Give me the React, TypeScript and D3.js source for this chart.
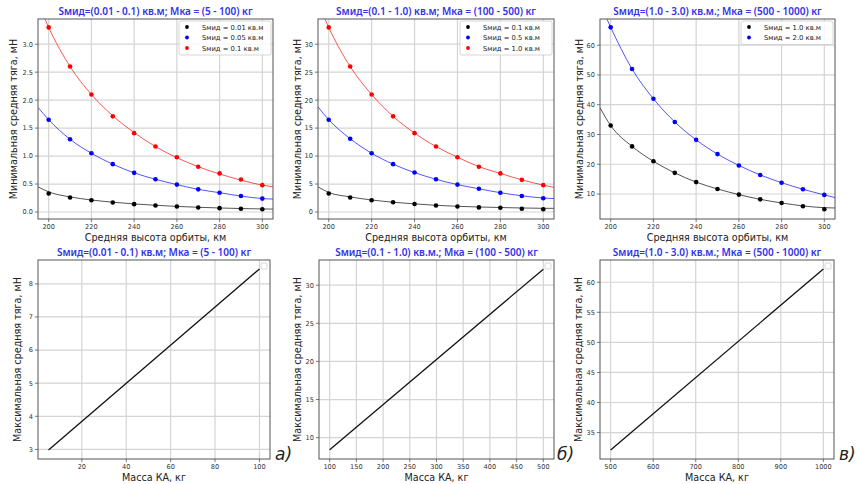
import React from "react";
import * as d3 from "d3";

// ---------- data ----------
const altitudes = [200, 210, 220, 230, 240, 250, 260, 270, 280, 290, 300];
const fitAltitudes = [195, 200, 210, 220, 230, 240, 250, 260, 270, 280, 290, 300, 305];

const p1Black = [0.33, 0.26, 0.21, 0.17, 0.14, 0.117, 0.098, 0.081, 0.069, 0.058, 0.048];
const p1Blue = [1.65, 1.3, 1.05, 0.855, 0.7, 0.585, 0.49, 0.405, 0.345, 0.285, 0.24];
const p1Red = [3.3, 2.6, 2.1, 1.71, 1.41, 1.17, 0.98, 0.81, 0.69, 0.58, 0.48];
const p1BlackFit = [0.45, 0.36, 0.27, 0.215, 0.175, 0.145, 0.12, 0.1, 0.085, 0.072, 0.062, 0.055, 0.052];
const p1BlueFit = [1.87, 1.65, 1.3, 1.05, 0.855, 0.7, 0.585, 0.49, 0.405, 0.345, 0.285, 0.24, 0.23];
const p1RedFit = [3.75, 3.3, 2.6, 2.1, 1.72, 1.42, 1.17, 0.97, 0.81, 0.68, 0.57, 0.48, 0.45];

const p2Black = [3.3, 2.6, 2.1, 1.75, 1.42, 1.15, 0.98, 0.82, 0.75, 0.58, 0.48];
const p2Blue = [16.5, 13.1, 10.5, 8.55, 7.05, 5.85, 4.9, 4.15, 3.45, 2.85, 2.45];
const p2Red = [33, 26, 21, 17.1, 14.1, 11.7, 9.8, 8.1, 6.9, 5.75, 4.8];
const p2BlackFit = [4.5, 3.5, 2.7, 2.15, 1.75, 1.45, 1.2, 1.02, 0.9, 0.8, 0.72, 0.66, 0.66];
const p2BlueFit = [18.8, 16.5, 13.1, 10.5, 8.55, 7.05, 5.85, 4.9, 4.15, 3.45, 2.9, 2.5, 2.4];
const p2RedFit = [37.5, 33, 26, 21, 17.1, 14.1, 11.7, 9.8, 8.1, 6.9, 5.75, 4.8, 4.4];

const p3Black = [33, 26, 21, 17.1, 14, 11.7, 9.8, 8.2, 7, 5.9, 4.9];
const p3Blue = [66, 52, 42, 34.2, 28.2, 23.4, 19.6, 16.4, 13.8, 11.6, 9.7];
const p3BlackFit = [39, 33, 26, 21, 17.1, 14, 11.7, 9.8, 8.2, 7, 6.0, 5.4, 5.3];
const p3BlueFit = [74, 66, 52, 42, 34.2, 28.2, 23.4, 19.6, 16.4, 13.8, 11.6, 9.7, 8.8];

const p4Mass = [5, 100];
const p4Thrust = [2.98, 8.45];
const p5Mass = [100, 500];
const p5Thrust = [8.4, 32.1];
const p6Mass = [500, 1000];
const p6Thrust = [32.1, 62.2];

const topXTicks = [200, 220, 240, 260, 280, 300];
const p1YTicks = [0, 0.5, 1.0, 1.5, 2.0, 2.5, 3.0];
const p2YTicks = [0, 5, 10, 15, 20, 25, 30];
const p3YTicks = [10, 20, 30, 40, 50, 60];
const p4XTicks = [20, 40, 60, 80, 100];
const p4YTicks = [3, 4, 5, 6, 7, 8];
const p5XTicks = [100, 150, 200, 250, 300, 350, 400, 450, 500];
const p5YTicks = [10, 15, 20, 25, 30];
const p6XTicks = [500, 600, 700, 800, 900, 1000];
const p6YTicks = [35, 40, 45, 50, 55, 60];

const titles = [
  "Sмид=(0.01 - 0.1) кв.м; Мка = (5 - 100) кг",
  "Sмид=(0.1 - 1.0) кв.м; Мка = (100 - 500) кг",
  "Sмид=(1.0 - 3.0) кв.м.; Мка = (500 - 1000) кг",
  "Sмид=(0.01 - 0.1) кв.м; Мка = (5 - 100) кг",
  "Sмид=(0.1 - 1.0) кв.м.; Мка = (100 - 500) кг",
  "Sмид=(1.0 - 3.0) кв.м.; Мка = (500 - 1000) кг",
];
const p1Legend = ["Sмид = 0.01 кв.м", "Sмид = 0.05 кв.м", "Sмид = 0.1 кв.м"];
const p2Legend = ["Sмид = 0.1 кв.м", "Sмид = 0.5 кв.м", "Sмид = 1.0 кв.м"];
const p3Legend = ["Sмид = 1.0 кв.м", "Sмид = 2.0 кв.м"];
const panelLetters = ["а)", "б)", "в)"];
const xLabelTop = "Средняя высота орбиты, км";
const yLabelTop = "Минимальная средняя тяга, мН";
const xLabelBottom = "Масса КА, кг";
const yLabelBottom = "Максимальная средняя тяга, мН";

// ---------- styles ----------
const FONT = "DejaVu Sans, sans-serif";
const TITLE_FONT = "'Noto Sans', 'Open Sans', sans-serif";
const TITLE_COLOR = "#3232e8";
const GRID = "#d4d4d4";
const FRAME = "#555";
const TICK_TXT = "#333";

type Series = { dots: number[]; fit: number[]; color: string };

type PanelProps = {
  box: { l: number; r: number; t: number; b: number };
  xDomain: [number, number];
  yDomain: [number, number];
  xTicks: number[];
  yTicks: number[];
  yFmt: (v: number) => string;
  title: string;
  xLabel: string;
  yLabel: string;
  yLabelX: number;
  series?: Series[];
  legend?: string[];
  lineX?: number[];
  lineY?: number[];
  emptyLegend?: boolean;
  id: string;
};

function Panel(p: PanelProps) {
  const { box } = p;
  const x = d3.scaleLinear().domain(p.xDomain).range([box.l, box.r]);
  const y = d3.scaleLinear().domain(p.yDomain).range([box.b, box.t]);
  const cx = (box.l + box.r) / 2;
  const cy = (box.t + box.b) / 2;
  const line = d3
    .line<[number, number]>()
    .x((d) => x(d[0]))
    .y((d) => y(d[1]))
    .curve(d3.curveMonotoneX);
  const lin = d3
    .line<[number, number]>()
    .x((d) => x(d[0]))
    .y((d) => y(d[1]));
  const clipId = "clip-" + p.id;
  return (
    <g>
      <defs>
        <clipPath id={clipId}>
          <rect x={box.l} y={box.t} width={box.r - box.l} height={box.b - box.t} />
        </clipPath>
      </defs>
      {/* grid */}
      {p.xTicks.map((t) => (
        <line key={"gx" + t} x1={x(t)} x2={x(t)} y1={box.t} y2={box.b} stroke={GRID} strokeWidth={1.2} />
      ))}
      {p.yTicks.map((t) => (
        <line key={"gy" + t} x1={box.l} x2={box.r} y1={y(t)} y2={y(t)} stroke={GRID} strokeWidth={1.2} />
      ))}
      {/* data */}
      <g clipPath={`url(#${clipId})`}>
        {p.series &&
          p.series.map((s, i) => (
            <path
              key={"fit" + i}
              d={line(fitAltitudes.map((a, j) => [a, s.fit[j]] as [number, number])) || ""}
              fill="none"
              stroke={s.color}
              strokeWidth={0.9}
              opacity={0.75}
            />
          ))}
        {p.series &&
          p.series.map((s, i) =>
            altitudes.map((a, j) => (
              <circle key={"d" + i + "-" + j} cx={x(a)} cy={y(s.dots[j])} r={2.3} fill={s.color} />
            ))
          )}
        {p.lineX && p.lineY && (
          <path
            d={lin(p.lineX.map((m, j) => [m, p.lineY![j]] as [number, number])) || ""}
            fill="none"
            stroke="#111"
            strokeWidth={1.3}
          />
        )}
      </g>
      {/* frame */}
      <rect x={box.l} y={box.t} width={box.r - box.l} height={box.b - box.t} fill="none" stroke={FRAME} strokeWidth={1} />
      {/* ticks */}
      {p.xTicks.map((t) => (
        <g key={"tx" + t}>
          <line x1={x(t)} x2={x(t)} y1={box.b} y2={box.b + 3} stroke={FRAME} strokeWidth={0.8} />
          <text x={x(t)} y={box.b + 10} textAnchor="middle" fontSize={6.6} fill={TICK_TXT} fontFamily={FONT}>
            {t}
          </text>
        </g>
      ))}
      {p.yTicks.map((t) => (
        <g key={"ty" + t}>
          <line x1={box.l - 3} x2={box.l} y1={y(t)} y2={y(t)} stroke={FRAME} strokeWidth={0.8} />
          <text x={box.l - 5} y={y(t) + 2.4} textAnchor="end" fontSize={6.6} fill={TICK_TXT} fontFamily={FONT}>
            {p.yFmt(t)}
          </text>
        </g>
      ))}
      {/* labels */}
      <text x={cx} y={box.t - 4} textAnchor="middle" fontSize={10} fontWeight={600} fill={TITLE_COLOR} fontFamily={TITLE_FONT}>
        {p.title}
      </text>
      <text x={cx} y={box.b + 22} textAnchor="middle" fontSize={9.6} fill="#222" fontFamily={FONT}>
        {p.xLabel}
      </text>
      <text
        transform={`translate(${p.yLabelX},${cy}) rotate(-90)`}
        textAnchor="middle"
        dominantBaseline="middle"
        fontSize={9.6}
        fill="#222"
        fontFamily={FONT}
      >
        {p.yLabel}
      </text>
      {/* legend */}
      {p.legend && p.series && (
        <g>
          <rect
            x={box.r - 94}
            y={box.t + 2}
            width={92}
            height={p.legend.length * 10.5 + 2.5}
            fill="white"
            fillOpacity={0.85}
            stroke="#ccc"
            strokeWidth={0.8}
            rx={2}
          />
          {p.legend.map((lab, i) => (
            <g key={"lg" + i}>
              <circle cx={box.r - 86} cy={box.t + 8 + i * 10.5} r={1.9} fill={p.series![i].color} />
              <text x={box.r - 71} y={box.t + 10.5 + i * 10.5} fontSize={6.8} fill="#222" fontFamily={FONT}>
                {lab}
              </text>
            </g>
          ))}
        </g>
      )}
      {p.emptyLegend && (
        <rect x={box.r - 9} y={box.t + 3} width={6} height={6} fill="white" stroke="#ccc" strokeWidth={0.8} rx={1} />
      )}
    </g>
  );
}

export default function App() {
  const f1 = (v: number) => v.toFixed(1);
  const f0 = (v: number) => String(v);
  const W = 857;
  const H = 484;
  return (
    <svg
      width={W}
      height={H}
      style={{ position: "absolute", left: 0, top: 0, background: "white" }}
      xmlns="http://www.w3.org/2000/svg"
    >
      <rect x={0} y={0} width={W} height={H} fill="white" />
      <Panel
        id="p1"
        box={{ l: 38, r: 273, t: 19, b: 219 }}
        xDomain={[195, 305]}
        yDomain={[-0.125, 3.45]}
        xTicks={topXTicks}
        yTicks={p1YTicks}
        yFmt={f1}
        title={titles[0]}
        xLabel={xLabelTop}
        yLabel={yLabelTop}
        yLabelX={14}
        series={[
          { dots: p1Black, fit: p1BlackFit, color: "black" },
          { dots: p1Blue, fit: p1BlueFit, color: "blue" },
          { dots: p1Red, fit: p1RedFit, color: "red" },
        ]}
        legend={p1Legend}
      />
      <Panel
        id="p2"
        box={{ l: 318, r: 554, t: 19, b: 219 }}
        xDomain={[195, 305]}
        yDomain={[-1.25, 34.5]}
        xTicks={topXTicks}
        yTicks={p2YTicks}
        yFmt={f0}
        title={titles[1]}
        xLabel={xLabelTop}
        yLabel={yLabelTop}
        yLabelX={298}
        series={[
          { dots: p2Black, fit: p2BlackFit, color: "black" },
          { dots: p2Blue, fit: p2BlueFit, color: "blue" },
          { dots: p2Red, fit: p2RedFit, color: "red" },
        ]}
        legend={p2Legend}
      />
      <Panel
        id="p3"
        box={{ l: 600, r: 835, t: 19, b: 219 }}
        xDomain={[195, 305]}
        yDomain={[1.6, 68.8]}
        xTicks={topXTicks}
        yTicks={p3YTicks}
        yFmt={f0}
        title={titles[2]}
        xLabel={xLabelTop}
        yLabel={yLabelTop}
        yLabelX={580}
        series={[
          { dots: p3Black, fit: p3BlackFit, color: "black" },
          { dots: p3Blue, fit: p3BlueFit, color: "blue" },
        ]}
        legend={p3Legend}
      />
      <Panel
        id="p4"
        box={{ l: 38, r: 270, t: 260, b: 459 }}
        xDomain={[0.25, 104.75]}
        yDomain={[2.71, 8.72]}
        xTicks={p4XTicks}
        yTicks={p4YTicks}
        yFmt={f0}
        title={titles[3]}
        xLabel={xLabelBottom}
        yLabel={yLabelBottom}
        yLabelX={18}
        lineX={p4Mass}
        lineY={p4Thrust}
        emptyLegend
      />
      <Panel
        id="p5"
        box={{ l: 319, r: 554, t: 260, b: 459 }}
        xDomain={[80, 520]}
        yDomain={[7.2, 33.3]}
        xTicks={p5XTicks}
        yTicks={p5YTicks}
        yFmt={f0}
        title={titles[4]}
        xLabel={xLabelBottom}
        yLabel={yLabelBottom}
        yLabelX={298}
        lineX={p5Mass}
        lineY={p5Thrust}
        emptyLegend
      />
      <Panel
        id="p6"
        box={{ l: 600, r: 834, t: 260, b: 459 }}
        xDomain={[475, 1025]}
        yDomain={[30.6, 63.7]}
        xTicks={p6XTicks}
        yTicks={p6YTicks}
        yFmt={f0}
        title={titles[5]}
        xLabel={xLabelBottom}
        yLabel={yLabelBottom}
        yLabelX={579}
        lineX={p6Mass}
        lineY={p6Thrust}
        emptyLegend
      />
      {/* panel letters */}
      <text x={275} y={460} fontSize={17} fontStyle="italic" fill="#222" fontFamily={FONT}>
        {panelLetters[0]}
      </text>
      <text x={557} y={460} fontSize={17} fontStyle="italic" fill="#222" fontFamily={FONT}>
        {panelLetters[1]}
      </text>
      <text x={839} y={460} fontSize={17} fontStyle="italic" fill="#222" fontFamily={FONT}>
        {panelLetters[2]}
      </text>
    </svg>
  );
}
